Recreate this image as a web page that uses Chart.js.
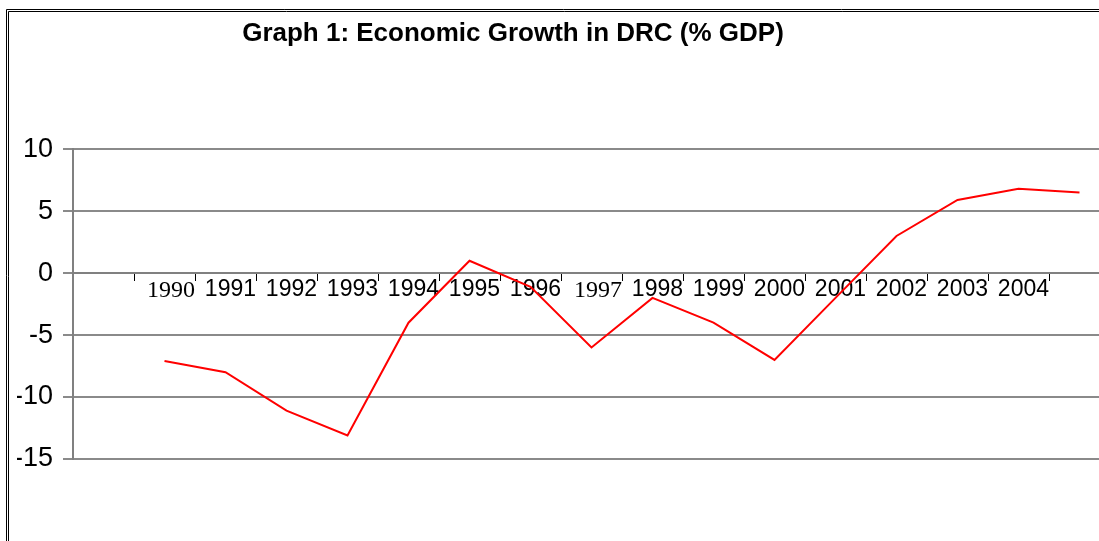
<!DOCTYPE html>
<html>
<head>
<meta charset="utf-8">
<script src="https://cdn.jsdelivr.net/npm/chart.js@4.4.0/dist/chart.umd.min.js"></script>
<style>
  html, body { margin: 0; padding: 0; background: #fff; overflow: hidden; }
  #wrap { position: relative; width: 1120px; height: 541px; }
</style>
</head>
<body>
<div id="wrap"><canvas id="c"></canvas></div>
<script>
// ---- data ----
const chartTitle = 'Graph 1: Economic Growth in DRC (% GDP)';
const categories = ['', '1990', '1991', '1992', '1993', '1994', '1995', '1996', '1997', '1998', '1999', '2000', '2001', '2002', '2003', '2004', '2005'];
const growthPct  = [null, -7.1, -8.0, -11.1, -13.1, -4.0, 1.0, -1.1, -6.0, -2.0, -4.0, -7.0, -2.0, 3.0, 5.9, 6.8, 6.5];
const xTickLabels = ['', '1990', '1991', '1992', '1993', '1994', '1995', '1996', '1997', '1998', '1999', '2000', '2001', '2002', '2003', '2004', ''];
const serifTickLabels = ['1990', '1997'];
const yMin = -15, yMax = 10, yStep = 5;

const framePlugin = {
  id: 'frame',
  afterLayout(chart) {
    // centre the title where the reference has it
    if (chart.titleBlock) { chart.titleBlock.left = 0; chart.titleBlock.right = 1026; }
  },
  beforeDraw(chart) {
    const ctx = chart.ctx;
    ctx.save();
    ctx.fillStyle = '#fff';
    ctx.fillRect(0, 0, chart.width, chart.height);
    ctx.strokeStyle = '#000';
    ctx.lineWidth = 1;
    ctx.beginPath();
    ctx.moveTo(6.5, chart.height); ctx.lineTo(6.5, 9.5); ctx.lineTo(chart.width, 9.5);
    ctx.moveTo(8.5, chart.height); ctx.lineTo(8.5, 11.5); ctx.lineTo(chart.width, 11.5);
    ctx.stroke();
    ctx.restore();
  }
};

new Chart(document.getElementById('c'), {
  type: 'line',
  data: {
    labels: categories,
    datasets: [{
      data: growthPct,
      borderColor: '#ff0000',
      borderWidth: 2,
      pointRadius: 0,
      tension: 0,
      fill: false
    }]
  },
  options: {
    responsive: true,
    maintainAspectRatio: false,
    animation: false,
    layout: { padding: { left: 17, right: 10, top: 0, bottom: 82 } },
    plugins: {
      legend: { display: false },
      tooltip: { enabled: false },
      title: {
        display: true,
        text: chartTitle,
        color: '#000',
        font: { family: 'Arial, "Liberation Sans", sans-serif', size: 26, weight: 'bold', lineHeight: 1.2 },
        padding: { top: 18, bottom: 100 }
      }
    },
    scales: {
      x: {
        type: 'category',
        position: { y: 0 },
        offset: true,
        grid: { display: true, drawOnChartArea: false, drawTicks: true, tickLength: 7, color: '#000', lineWidth: 1, offset: true },
        border: { display: true, color: '#808080', width: 2 },
        ticks: {
          autoSkip: false,
          maxRotation: 0,
          minRotation: 0,
          align: 'end',
          labelOffset: 30.5,
          padding: -3,
          color: '#000',
          callback: (v, i) => xTickLabels[i],
          font: (ctx) => serifTickLabels.includes(xTickLabels[ctx.index])
            ? { family: '"Liberation Serif", "Times New Roman", serif', size: 24, lineHeight: 1.1 }
            : { family: 'Arial, "Liberation Sans", sans-serif', size: 23, lineHeight: 1.1 }
        },
        afterFit: (s) => { s.height = 40; }
      },
      y: {
        min: yMin,
        max: yMax,
        ticks: {
          stepSize: yStep,
          color: '#000',
          padding: 10,
          font: { family: 'Arial, "Liberation Sans", sans-serif', size: 27 }
        },
        grid: { color: '#8a8a8a', lineWidth: 2, tickLength: 10, drawTicks: true },
        border: { display: true, color: '#808080', width: 2 },
        afterFit: (s) => { s.width = 56; }
      }
    }
  },
  plugins: [framePlugin]
});
</script>
</body>
</html>
